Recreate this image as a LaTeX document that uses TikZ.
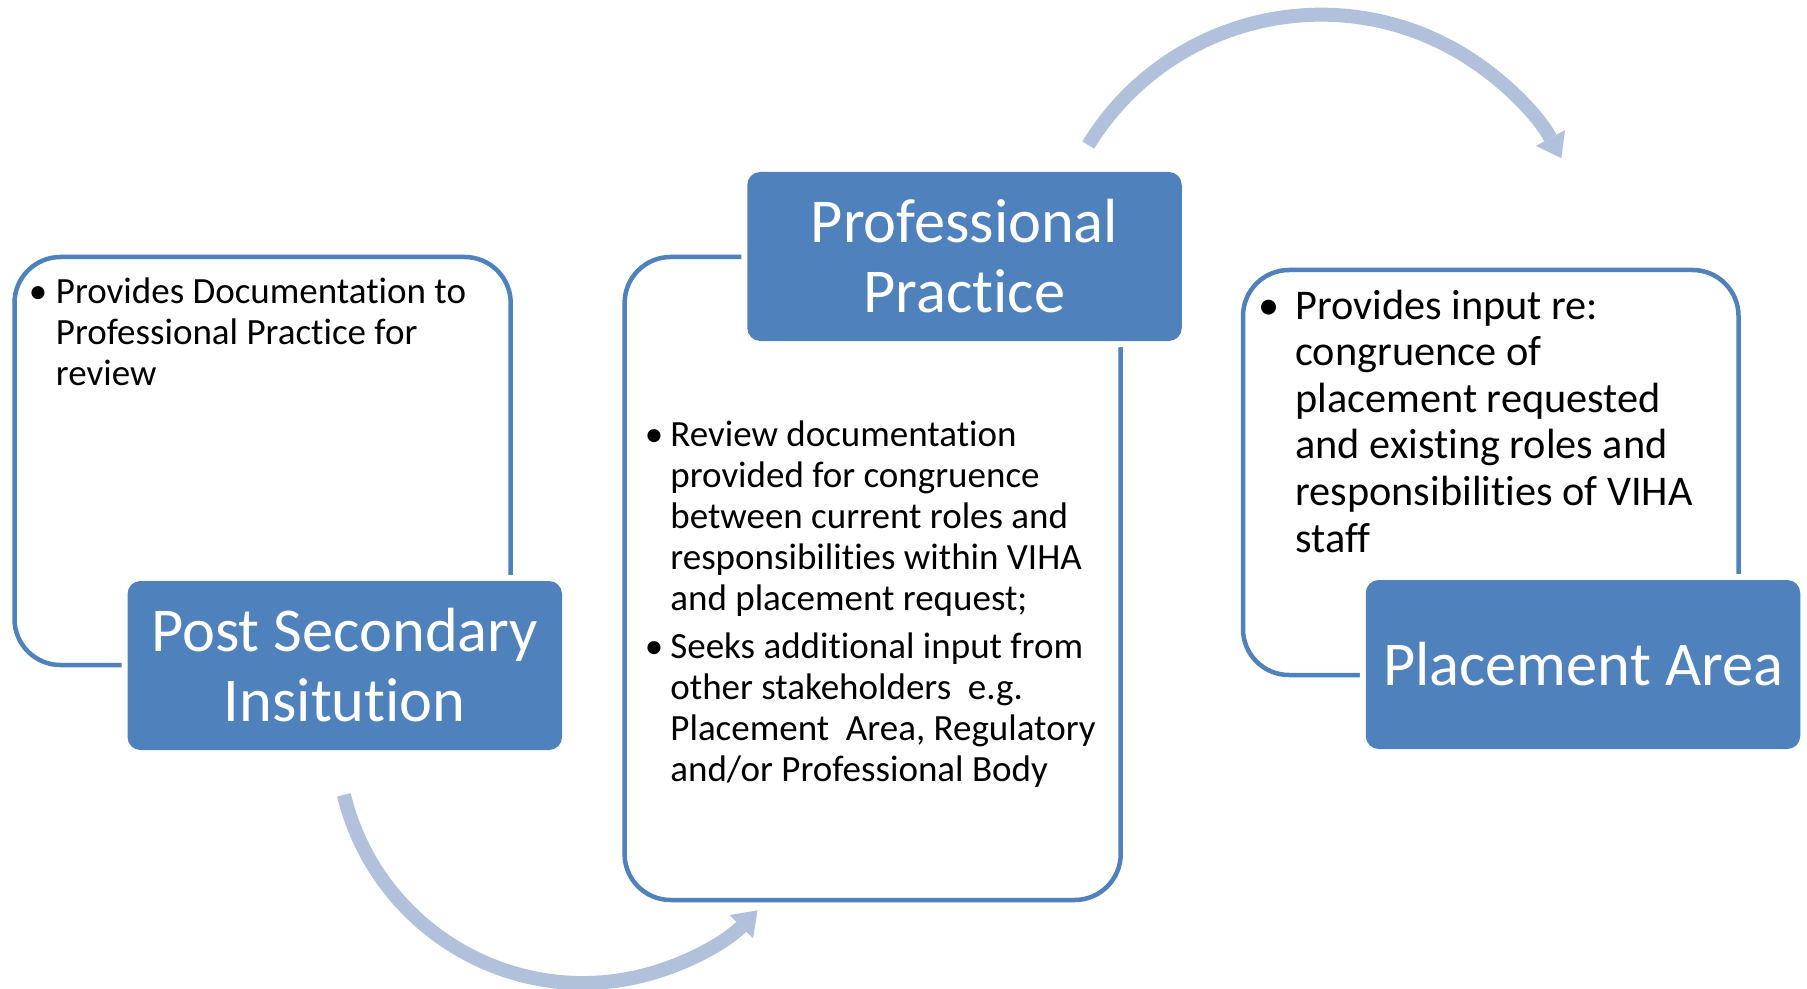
\documentclass[tikz,border=0pt]{standalone}
\usepackage{fontspec}
\setmainfont{Carlito}[Ligatures=NoCommon]
\usetikzlibrary{arrows.meta}
\definecolor{accent}{HTML}{4F81BD}
\definecolor{arrowc}{HTML}{B2C1DB}
\newcommand{\lines}[1]{\begin{tabular}[t]{@{}l@{}}#1\end{tabular}}
\begin{document}
\begin{tikzpicture}[x=0.5pt,y=0.5pt,
  outline/.style={draw=accent, line width=2.25pt, rounded corners=23pt, inner sep=0pt, fill=white},
  titlebox/.style={fill=accent, rounded corners=6.5pt, text=white, align=center, inner sep=0pt,
    minimum width=217.25pt, minimum height=84.5pt, font=\fontsize{31.2pt}{35pt}\selectfont,
    preaction={draw=white, line width=6pt}},
  body/.style={anchor=base west, inner sep=0pt, font=\fontsize{18.5pt}{20.5pt}\selectfont},
  bodyR/.style={body, font=\fontsize{21.15pt}{23.25pt}\selectfont},
  bul/.style={anchor=base, inner sep=0pt, font=\fontsize{18.5pt}{20.5pt}\selectfont},
  bulR/.style={bul, font=\fontsize{21.15pt}{23.25pt}\selectfont},
  flow/.style={draw=arrowc, line width=7pt, -{Triangle[length=11.5pt, width=16.5pt, line width=0pt]}}
]
\path[use as bounding box, fill=white] (0,0) rectangle (1807,-989);

% curved arrows
\coordinate (a1s) at ([shift={(193.6:246)}]583,-737);
\draw[flow] (a1s) arc[start angle=193.6, end angle=315.2, radius=246];
\coordinate (a2s) at ([shift={(148.5:273)}]1321,-287.7);
\draw[flow] (a2s) arc[start angle=148.5, end angle=28.3, radius=273];

% outline boxes
\node[outline, minimum width=248.1pt, minimum height=204pt] (o1) at (262.6,-461) {};
\node[outline, minimum width=248.05pt, minimum height=321.5pt] (o2) at (872.65,-578.5) {};
\node[outline, minimum width=247.75pt, minimum height=202.5pt] (o3) at (1490.75,-472.5) {};

% title boxes
\node[titlebox] (t1) at (344.75,-665.5) {Post Secondary\\Insitution};
\node[titlebox] (t2) at (964.5,-256.5) {Professional\\Practice};
\node[titlebox] (t3) at (1583,-664.5) {Placement Area};

% body texts
\node[bul] (b1) at (38,-303.5) {•};
\node[body] (x1) at (55.5,-303.5) {\lines{Provides Documentation to\\Professional Practice for\\review}};

\node[bul] (b2) at (654,-446) {•};
\node[body] (x2) at (670,-446) {\lines{Review documentation\\provided for congruence\\between current roles and\\responsibilities within VIHA\\and placement request;}};
\node[bul] (b3) at (654,-658) {•};
\node[body] (x3) at (670,-658) {\lines{Seeks additional input from\\other stakeholders\ \ e.g.\\Placement\ \ Area, Regulatory\\and/or Professional Body}};

\node[bulR] (b4) at (1269,-319.5) {•};
\node[bodyR] (x4) at (1295,-319.5) {\lines{Provides input re:\\congruence of\\placement requested\\and existing roles and\\responsibilities of VIHA\\staff}};
\end{tikzpicture}
\end{document}
